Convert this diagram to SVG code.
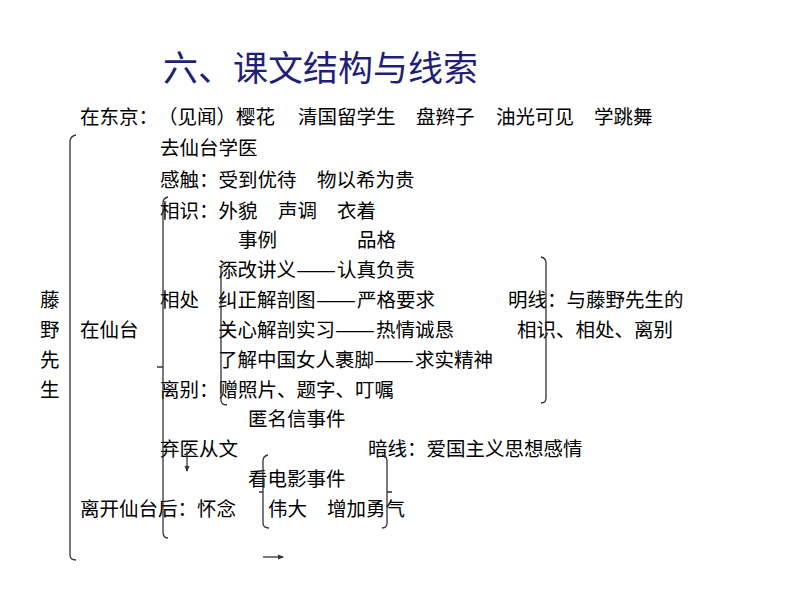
<svg xmlns="http://www.w3.org/2000/svg" width="794" height="596" viewBox="0 0 794 596">
<defs>
<style>
text{font-family:"Noto Sans CJK SC","Liberation Sans",sans-serif;font-size:19.5px;fill:#000}
.title{font-size:35px;fill:#1f1f7a}
.br{fill:none;stroke:#333;stroke-width:1.3}
</style>
<marker id="ah" markerWidth="6" markerHeight="6" refX="5" refY="3" orient="auto" markerUnits="userSpaceOnUse">
<path d="M0,0.5 L6,3 L0,5.5 Z" fill="#333"/>
</marker>
</defs>
<rect width="794" height="596" fill="#fff"/>
<g id="title"><text class="title" x="163" y="81">六、课文结构与线索</text></g>
<g id="tokyo">
<text x="80" y="124">在东京：</text>
<text x="158" y="124">（见闻）樱花</text>
<text x="298" y="124">清国留学生</text>
<text x="416" y="124">盘辫子</text>
<text x="496" y="124">油光可见</text>
<text x="594" y="124">学跳舞</text>
</g>
<g id="go-sendai"><text x="160" y="155">去仙台学医</text></g>
<g id="impression"><text x="160" y="187">感触：受到优待</text><text x="317" y="187">物以希为贵</text></g>
<g id="meet"><text x="160" y="218">相识：外貌</text><text x="278" y="218">声调</text><text x="337" y="218">衣着</text></g>
<g id="header"><text x="238" y="247">事例</text><text x="357" y="247">品格</text></g>
<g id="ex1"><text x="218" y="277">添改讲义</text><text x="296" y="277" textLength="40" lengthAdjust="spacingAndGlyphs">——</text><text x="337" y="277">认真负责</text></g>
<g id="together"><text x="160" y="307">相处</text></g>
<g id="ex2"><text x="218" y="307">纠正解剖图</text><text x="316" y="307" textLength="40" lengthAdjust="spacingAndGlyphs">——</text><text x="357" y="307">严格要求</text></g>
<g id="ex3"><text x="218" y="337">关心解剖实习</text><text x="335" y="337" textLength="40" lengthAdjust="spacingAndGlyphs">——</text><text x="376" y="337">热情诚恳</text></g>
<g id="ex4"><text x="218" y="367">了解中国女人裹脚</text><text x="374" y="367" textLength="40" lengthAdjust="spacingAndGlyphs">——</text><text x="415" y="367">求实精神</text></g>
<g id="fujino"><text x="40" y="307">藤</text><text x="40" y="337">野</text><text x="40" y="367">先</text><text x="40" y="397">生</text></g>
<g id="in-sendai"><text x="80" y="337">在仙台</text></g>
<g id="mingxian"><text x="508" y="307">明线：与藤野先生的</text><text x="517" y="337">相识、相处、离别</text></g>
<g id="parting"><text x="160" y="397">离别：赠照片、题字、叮嘱</text></g>
<g id="letter"><text x="248" y="426">匿名信事件</text></g>
<g id="abandon"><text x="160" y="456">弃医从文</text></g>
<g id="anxian"><text x="368" y="456">暗线：爱国主义思想感情</text></g>
<g id="film"><text x="248" y="486">看电影事件</text></g>
<g id="after"><text x="80" y="516">离开仙台后：怀念</text><text x="268" y="516">伟大</text><text x="327" y="516">增加勇气</text></g>
<g id="connectors">
<path class="br" d="M76,135 Q70,136 70,142 L70,555 Q70,560 76,560"/>
<path class="br" d="M168,197 Q163,198 163,203 L163,532 Q163,538 168,538 M163,367 L157,367"/>
<path class="br" d="M226,263 Q221,264 221,269 L221,400 Q221,405 227,405"/>
<path class="br" d="M541,257 Q546,258 546,263 L546,398 Q546,403 541,403"/>
<path class="br" d="M268,455 Q263,456 263,461 L263,523 Q263,528 269,528 M263,492 L259,492"/>
<path class="br" d="M382,455 Q387,456 387,461 L387,523 Q387,528 382,528 M387,492 L392,492"/>
<line class="br" x1="187" y1="451" x2="187" y2="471" marker-end="url(#ah)"/>
<line class="br" x1="263" y1="557" x2="283" y2="557" marker-end="url(#ah)"/>
</g>
</svg>
